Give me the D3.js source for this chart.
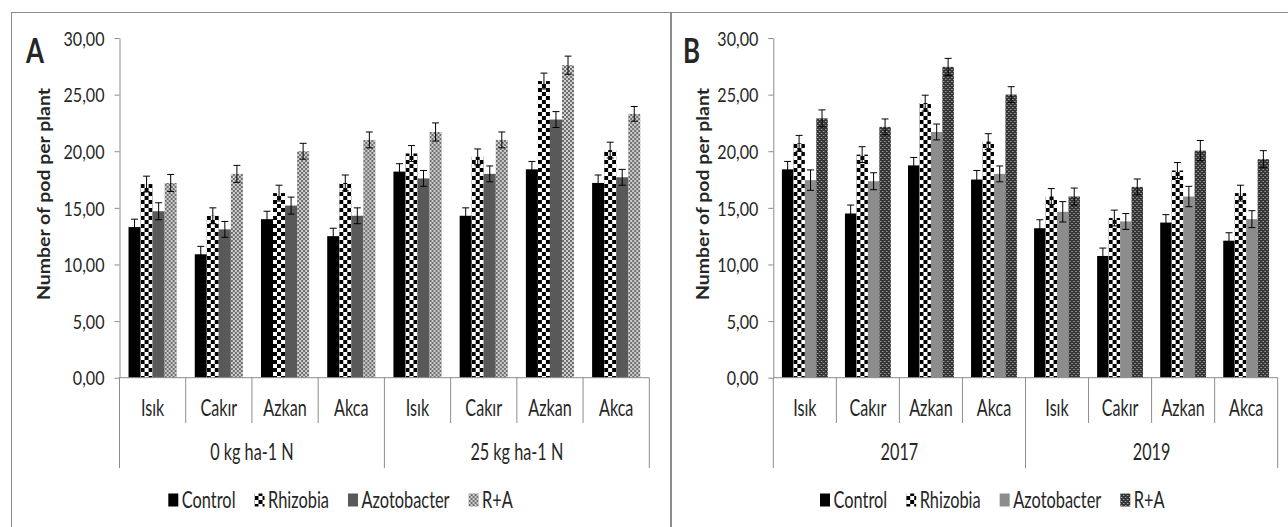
<!DOCTYPE html>
<html>
<head>
<meta charset="utf-8">
<script src="https://cdnjs.cloudflare.com/ajax/libs/d3/7.8.5/d3.min.js"></script>
<style>
body { margin: 0; background: #fff; }
text { font-family: Lato, "Open Sans", sans-serif; fill: #262626; }
</style>
</head>
<body>
<script>
// categories
var cultivars = ["Isık", "Cakır", "Azkan", "Akca"]
var seriesNames = ["Control", "Rhizobia", "Azotobacter", "R+A"]
var groupsA = ["0 kg ha-1 N", "25 kg ha-1 N"]
var groupsB = ["2017", "2019"]
var yTicks = [0, 5, 10, 15, 20, 25, 30]

// panel A values (0 N: Isık..Akca, then 25 N: Isık..Akca)
var controlA     = [13.3, 10.9, 14.0, 12.5, 18.2, 14.3, 18.4, 17.2]
var rhizobiaA    = [17.1, 14.3, 16.3, 17.2, 19.8, 19.5, 26.2, 20.1]
var azotobacterA = [14.7, 13.1, 15.2, 14.3, 17.6, 18.0, 22.8, 17.7]
var raA          = [17.2, 18.0, 20.0, 21.0, 21.7, 21.0, 27.6, 23.3]
var controlErrA     = [0.7, 0.7, 0.7, 0.7, 0.7, 0.7, 0.7, 0.7]
var rhizobiaErrA    = [0.7, 0.7, 0.7, 0.7, 0.7, 0.7, 0.7, 0.7]
var azotobacterErrA = [0.75, 0.7, 0.75, 0.7, 0.7, 0.7, 0.7, 0.7]
var raErrA          = [0.75, 0.75, 0.7, 0.7, 0.8, 0.7, 0.8, 0.65]

// panel B values (2017: Isık..Akca, then 2019: Isık..Akca)
var controlB     = [18.4, 14.5, 18.75, 17.5, 13.2, 10.75, 13.7, 12.1]
var rhizobiaB    = [20.7, 19.7, 24.25, 20.85, 16.0, 14.1, 18.3, 16.3]
var azotobacterB = [17.45, 17.35, 21.7, 18.0, 14.65, 13.8, 16.0, 14.0]
var raB          = [22.9, 22.15, 27.45, 25.0, 16.0, 16.85, 20.05, 19.3]
var controlErrB     = [0.7, 0.75, 0.7, 0.8, 0.75, 0.7, 0.7, 0.7]
var rhizobiaErrB    = [0.7, 0.7, 0.7, 0.7, 0.7, 0.7, 0.7, 0.7]
var azotobacterErrB = [0.9, 0.75, 0.7, 0.7, 0.9, 0.7, 0.9, 0.75]
var raErrB          = [0.75, 0.7, 0.75, 0.7, 0.75, 0.7, 0.9, 0.75]

var svg = d3.select("body").append("svg").attr("width", 1288).attr("height", 527)
var defs = svg.append("defs")

// fill patterns
var chk = defs.append("pattern").attr("id", "checker").attr("patternUnits", "userSpaceOnUse")
    .attr("width", 8).attr("height", 8)
chk.append("rect").attr("width", 8).attr("height", 8).attr("fill", "#fff")
chk.append("rect").attr("width", 4).attr("height", 4).attr("fill", "#000")
chk.append("rect").attr("x", 4).attr("y", 4).attr("width", 4).attr("height", 4).attr("fill", "#000")

var hl = defs.append("pattern").attr("id", "hatchLight").attr("patternUnits", "userSpaceOnUse")
    .attr("width", 4).attr("height", 4)
hl.append("rect").attr("width", 4).attr("height", 4).attr("fill", "#cfcfcf")
hl.append("rect").attr("width", 2).attr("height", 2).attr("fill", "#6e6e6e")
hl.append("rect").attr("x", 2).attr("y", 2).attr("width", 2).attr("height", 2).attr("fill", "#6e6e6e")

var hd = defs.append("pattern").attr("id", "hatchDark").attr("patternUnits", "userSpaceOnUse")
    .attr("width", 4).attr("height", 4)
hd.append("rect").attr("width", 4).attr("height", 4).attr("fill", "#363636")
hd.append("rect").attr("x", 1).attr("y", 1).attr("width", 1).attr("height", 1).attr("fill", "#d0d0d0")
hd.append("rect").attr("x", 3).attr("y", 3).attr("width", 1).attr("height", 1).attr("fill", "#d0d0d0")

// horizontal squeeze so a sample string gets a given width
function fitX(sample, size, weight, target) {
    var t = svg.append("text").style("font-size", size + "px").style("font-weight", weight).text(sample)
    var w = t.node().getComputedTextLength()
    t.remove()
    return target / w
}
var tickSize = 20, tickSx = fitX("30,00", tickSize, "normal", 41)
var catSize = 23, catSx = fitX("Azkan", catSize, "normal", 43.5)
var grpSx = fitX("25 kg ha-1 N", catSize, "normal", 93)
var legSx = fitX("Rhizobia", catSize, "normal", 61)
var titleSize = 17, titleSx = fitX("Number of pod per plant", titleSize, "bold", 212)
var letterSize = 35, letterSx = fitX("A", letterSize, "bold", 18)

function label(g, x, y, s, size, sx, anchor, weight) {
    return g.append("g").attr("transform", "translate(" + x + "," + y + ") scale(" + sx + ",1)")
        .append("text").attr("text-anchor", anchor).style("font-size", size + "px")
        .style("font-weight", weight || "normal").text(s)
}

var y = d3.scaleLinear().domain([0, 30]).range([377.7, 38])
var base = y(0)

function drawPanel(cfg) {
    var g = svg.append("g")
    g.append("rect").attr("x", cfg.boxX + 0.5).attr("y", 12.5).attr("width", cfg.boxW).attr("height", 540)
        .attr("fill", "none").attr("stroke", "#8c8c8c")

    var cats = d3.range(cfg.groups.length * cultivars.length)
    var x = d3.scaleBand().domain(cats).range([cfg.x0, cfg.x1])
    var xs = d3.scaleBand().domain(seriesNames).range([0, x.bandwidth()]).paddingOuter(0.75)

    // y axis
    var yAxis = d3.axisLeft(y).tickValues(yTicks).tickSize(5).tickSizeOuter(0)
        .tickFormat(function (d) { return d3.format(".2f")(d).replace(".", ",") })
    var ax = g.append("g").attr("transform", "translate(" + cfg.x0 + ",0)").call(yAxis)
    ax.select(".domain").attr("stroke", "#8c8c8c")
    ax.selectAll(".tick line").attr("stroke", "#8c8c8c")
    ax.selectAll(".tick text").attr("x", -15 / tickSx).attr("dy", "0.36em")
        .attr("transform", "scale(" + tickSx + ",1)")
        .style("font-size", tickSize + "px").style("font-family", "Lato, 'Open Sans', sans-serif")
        .attr("fill", "#262626")

    // bars
    seriesNames.forEach(function (s, si) {
        g.selectAll(null).data(cfg.values[si]).enter().append("g")
            .attr("transform", function (d, i) { return "translate(" + (x(i) + xs(s)) + ",0)" })
            .append("rect")
            .attr("y", function (d) { return y(d) })
            .attr("width", xs.bandwidth())
            .attr("height", function (d) { return base - y(d) })
            .attr("fill", cfg.fills[si])
    })

    // error bars
    seriesNames.forEach(function (s, si) {
        var eb = g.selectAll(null).data(cfg.values[si]).enter().append("g")
            .attr("transform", function (d, i) { return "translate(" + (x(i) + xs(s) + xs.bandwidth() / 2) + ",0)" })
        eb.append("line").attr("x1", 0).attr("x2", 0)
            .attr("y1", function (d, i) { return y(d - cfg.errors[si][i]) })
            .attr("y2", function (d, i) { return y(d + cfg.errors[si][i]) })
            .attr("stroke", "#000")
        eb.append("line").attr("x1", -3.5).attr("x2", 3.5)
            .attr("y1", function (d, i) { return y(d + cfg.errors[si][i]) })
            .attr("y2", function (d, i) { return y(d + cfg.errors[si][i]) })
            .attr("stroke", "#000")
        eb.append("line").attr("x1", -3.5).attr("x2", 3.5)
            .attr("y1", function (d, i) { return y(d - cfg.errors[si][i]) })
            .attr("y2", function (d, i) { return y(d - cfg.errors[si][i]) })
            .attr("stroke", "#000")
    })

    // multi-level category axis
    g.append("line").attr("x1", cfg.x0).attr("x2", cfg.x1).attr("y1", base).attr("y2", base)
        .attr("stroke", "#8c8c8c")
    cats.concat([cats.length]).forEach(function (i) {
        var xx = i < cats.length ? x(i) : cfg.x1
        var isGroup = i % cultivars.length === 0
        g.append("line").attr("x1", xx).attr("x2", xx).attr("y1", base).attr("y2", isGroup ? 468 : 423)
            .attr("stroke", "#8c8c8c")
    })
    cats.forEach(function (i) {
        label(g, x(i) + x.bandwidth() / 2, 416, cultivars[i % cultivars.length], catSize, catSx, "middle")
    })
    cfg.groups.forEach(function (gr, gi) {
        var a = x(gi * cultivars.length), b = gi === cfg.groups.length - 1 ? cfg.x1 : x((gi + 1) * cultivars.length)
        label(g, (a + b) / 2, 460, gr, catSize, grpSx, "middle")
    })

    // axis title and panel letter
    g.append("g").attr("transform", "translate(" + cfg.titleX + ",194) rotate(-90) scale(" + titleSx + ",1)")
        .append("text").attr("text-anchor", "middle").style("font-size", titleSize + "px")
        .style("font-weight", "bold").text("Number of pod per plant")
    label(g, cfg.letterX, 63, cfg.letter, letterSize, letterSx, "start", "bold")

    // legend
    var lx = cfg.legendX
    seriesNames.forEach(function (s, si) {
        g.append("g").attr("transform", "translate(" + lx + ",0)")
            .append("rect").attr("y", 493.5).attr("width", 10).attr("height", 13)
            .attr("fill", cfg.fills[si])
        var t = label(g, lx + 13.5, 507.5, s, catSize, legSx, "start")
        lx += 13.5 + t.node().getComputedTextLength() * legSx + 19
    })
}

drawPanel({
    boxX: 11, boxW: 659, x0: 119.5, x1: 649.3, groups: groupsA,
    values: [controlA, rhizobiaA, azotobacterA, raA],
    errors: [controlErrA, rhizobiaErrA, azotobacterErrA, raErrA],
    fills: ["#000", "url(#checker)", "#595959", "url(#hatchLight)"],
    titleX: 50, letterX: 26, letter: "A", legendX: 168.3
})
drawPanel({
    boxX: 671, boxW: 640, x0: 773.3, x1: 1277.7, groups: groupsB,
    values: [controlB, rhizobiaB, azotobacterB, raB],
    errors: [controlErrB, rhizobiaErrB, azotobacterErrB, raErrB],
    fills: ["#000", "url(#checker)", "#8c8c8c", "url(#hatchDark)"],
    titleX: 709, letterX: 683, letter: "B", legendX: 820
})
</script>
</body>
</html>
